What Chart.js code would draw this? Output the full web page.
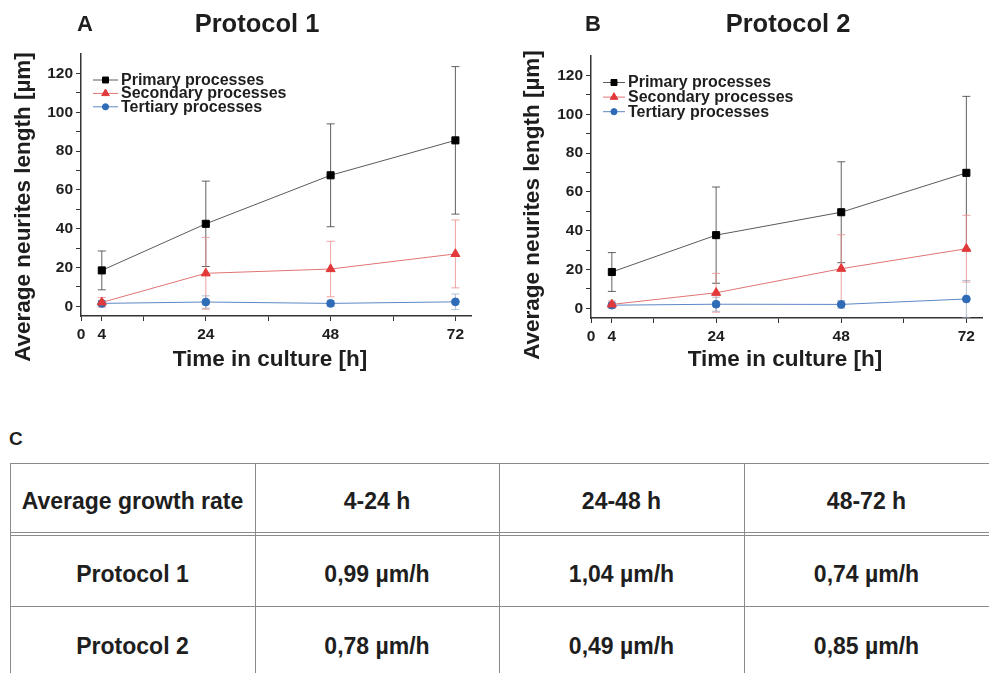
<!DOCTYPE html>
<html><head><meta charset="utf-8">
<script src="https://cdn.jsdelivr.net/npm/chart.js@4/dist/chart.umd.min.js"></script>
<style>
html,body{margin:0;padding:0;background:#fff;width:989px;height:673px;overflow:hidden;font-family:"Liberation Sans",Arial,sans-serif;color:#1e1e1e;}
.wrap{position:absolute;width:480px;height:385px;}
#wrapA{left:0;top:0;}
#wrapB{left:510px;top:2px;}
.ln{position:absolute;background:#8a8a8a;}
.cell{position:absolute;display:flex;align-items:center;justify-content:center;font-weight:bold;font-size:23px;color:#1e1e1e;box-sizing:border-box;padding-top:7px;}
#lblC{position:absolute;left:9px;top:428px;font-weight:bold;font-size:19px;color:#1e1e1e;}
</style>
</head><body>
<div class="wrap" id="wrapA"><canvas id="cA" width="480" height="385"></canvas></div>
<div class="wrap" id="wrapB"><canvas id="cB" width="480" height="385"></canvas></div>
<div id="lblC">C</div>
<div id="table"></div>
<script>
// ---- data ----
const hours = [4, 24, 48, 72];
const seriesNames = ['Primary processes', 'Secondary processes', 'Tertiary processes'];
const p1Primary = [18.5, 42.5, 67.5, 85.5];
const p1PrimarySD = [10, 22, 26.5, 38];
const p1Secondary = [2, 17, 19.2, 27];
const p1SecondarySD = [2.5, 18.5, 14.3, 17.5];
const p1Tertiary = [1.5, 2.2, 1.5, 2.3];
const p1TertiarySD = [1.5, 3.2, 1.5, 4];
const p2Primary = [18.7, 37.7, 49.5, 69.8];
const p2PrimarySD = [10, 24.8, 26, 39.4];
const p2Secondary = [2, 8, 20.4, 30.7];
const p2SecondarySD = [1.8, 10, 17.5, 17.2];
const p2Tertiary = [1.6, 2.1, 2, 4.8];
const p2TertiarySD = [1.5, 3.6, 2.0, 9.5];
const yTicks = [0, 10, 20, 30, 40, 50, 60, 70, 80, 90, 100, 110, 120];
const yLabels = [0, 20, 40, 60, 80, 100, 120];
const xTicks = [0, 4, 12, 24, 36, 48, 60, 72];
const xLabels = [0, 4, 24, 48, 72];
const tableHead = ['Average growth rate', '4-24 h', '24-48 h', '48-72 h'];
const tableRowP1 = ['Protocol 1', '0,99 µm/h', '1,04 µm/h', '0,74 µm/h'];
const tableRowP2 = ['Protocol 2', '0,78 µm/h', '0,49 µm/h', '0,85 µm/h'];

const FONT = '"Liberation Sans", Arial, sans-serif';
const TXT = '#1e1e1e';

function pts(vals){ return hours.map((h,i)=>({x:h, y:vals[i]})); }

const errorBarPlugin = {
  id: 'errorBars',
  beforeDatasetsDraw(chart){
    const ctx = chart.ctx, xs = chart.scales.x, ys = chart.scales.y;
    ctx.save();
    chart.data.datasets.forEach(ds => {
      if (!ds.sd) return;
      ctx.strokeStyle = ds.errColor; ctx.lineWidth = 1;
      ds.data.forEach((p,i) => {
        const x = xs.getPixelForValue(p.x);
        const yt = ys.getPixelForValue(p.y + ds.sd[i]);
        const yb = ys.getPixelForValue(p.y - ds.sd[i]);
        ctx.beginPath();
        ctx.moveTo(x, yt); ctx.lineTo(x, yb);
        ctx.moveTo(x-4, yt); ctx.lineTo(x+4, yt);
        ctx.moveTo(x-4, yb); ctx.lineTo(x+4, yb);
        ctx.stroke();
      });
    });
    ctx.restore();
  }
};

const decoPlugin = {
  id: 'deco',
  afterDraw(chart, args, o){
    const ctx = chart.ctx;
    ctx.save();
    ctx.fillStyle = TXT;
    ctx.textBaseline = 'middle';
    // panel letter & title
    ctx.font = 'bold 22px ' + FONT; ctx.textAlign = 'left';
    ctx.fillText(o.letter, o.letterX, o.titleY);
    ctx.font = 'bold 25.5px ' + FONT; ctx.textAlign = 'center';
    ctx.fillText(o.title, o.titleX, o.titleY);
    // axis titles
    ctx.font = 'bold 22.5px ' + FONT;
    ctx.fillText(o.xTitle, o.xTitleX, o.xTitleY);
    ctx.save();
    ctx.translate(o.yTitleX, o.yTitleY); ctx.rotate(-Math.PI/2);
    ctx.fillText(o.yTitle, 0, 0);
    ctx.restore();
    // legend
    ctx.font = 'bold 16px ' + FONT; ctx.textAlign = 'left';
    chart.data.datasets.forEach((ds,i) => {
      const y = o.legY + i*o.legGap;
      ctx.strokeStyle = ds.borderColor; ctx.lineWidth = 1;
      ctx.beginPath(); ctx.moveTo(o.legX0, y); ctx.lineTo(o.legX1, y); ctx.stroke();
      ctx.fillStyle = ds.pointBackgroundColor; ctx.strokeStyle = ds.pointBorderColor;
      Chart.helpers.drawPoint(ctx, {pointStyle: ds.pointStyle, radius: ds.pointRadius - 0.8, borderWidth: 1, rotation: 0}, (o.legX0+o.legX1)/2, y);
      ctx.fillStyle = TXT;
      ctx.fillText(ds.label, o.legX1 + 3, y + 0.5);
    });
    ctx.restore();
  }
};

function makeChart(id, prim, primSD, sec, secSD, ter, terSD, deco, padRight){
  const mk = (label, vals, sd, line, fill, style, r, err) => ({
    label, data: pts(vals), sd, errColor: err,
    borderColor: line, backgroundColor: fill, borderWidth: 1,
    pointStyle: style, pointRadius: r, pointBackgroundColor: fill, pointBorderColor: fill, pointBorderWidth: 1,
    showLine: true, tension: 0
  });
  return new Chart(document.getElementById(id), {
    type: 'scatter',
    data: { datasets: [
      mk(seriesNames[0], prim, primSD, '#5a5a5a', '#000000', 'rect', 5, 'rgba(70,70,70,0.85)'),
      mk(seriesNames[1], sec, secSD, '#e07474', '#e2393b', 'triangle', 5.2, 'rgba(235,140,140,0.8)'),
      mk(seriesNames[2], ter, terSD, '#5d88c6', '#2f6cb8', 'circle', 3.9, 'rgba(150,165,190,0.7)')
    ]},
    options: {
      responsive: false, animation: false,
      layout: { padding: { left: 10, right: padRight, top: 54, bottom: 0 } },
      plugins: { legend: { display: false }, tooltip: { enabled: false }, deco },
      scales: {
        x: {
          type: 'linear', min: 0, max: 75,
          afterBuildTicks: s => { s.ticks = xTicks.map(v => ({value: v})); },
          afterFit: s => { s.height = 69; },
          grid: { drawOnChartArea: false, drawTicks: true, tickLength: 5, color: '#333', lineWidth: 1 },
          border: { display: true, color: '#333', width: 1.5 },
          ticks: { autoSkip: false, maxRotation: 0, padding: 4, color: TXT,
            font: { family: FONT, size: 15.5, weight: 'bold' },
            callback: v => xLabels.includes(v) ? String(v) : '' }
        },
        y: {
          min: -5, max: 130,
          afterBuildTicks: s => { s.ticks = yTicks.map(v => ({value: v})); },
          afterFit: s => { s.width = 71; },
          grid: { drawOnChartArea: false, drawTicks: true, tickLength: 5, color: '#333', lineWidth: 1 },
          border: { display: true, color: '#333', width: 1.5 },
          ticks: { padding: 3, color: TXT, font: { family: FONT, size: 15.5, weight: 'bold' },
            callback: v => yLabels.includes(v) ? String(v) : '' }
        }
      }
    },
    plugins: [errorBarPlugin, decoPlugin]
  });
}

makeChart('cA', p1Primary, p1PrimarySD, p1Secondary, p1SecondarySD, p1Tertiary, p1TertiarySD, {
  letter: 'A', letterX: 77, title: 'Protocol 1', titleX: 257, titleY: 25,
  xTitle: 'Time in culture [h]', xTitleX: 270, xTitleY: 360,
  yTitle: 'Average neurites length [µm]', yTitleX: 24, yTitleY: 207,
  legX0: 93, legX1: 118, legY: 80, legGap: 13.4
}, 9);
makeChart('cB', p2Primary, p2PrimarySD, p2Secondary, p2SecondarySD, p2Tertiary, p2TertiarySD, {
  letter: 'B', letterX: 75, title: 'Protocol 2', titleX: 278, titleY: 23,
  xTitle: 'Time in culture [h]', xTitleX: 275, xTitleY: 358,
  yTitle: 'Average neurites length [µm]', yTitleX: 23, yTitleY: 203,
  legX0: 93, legX1: 115, legY: 80.5, legGap: 14.6
}, 8);

// ---- table ----
(function(){
  const t = document.getElementById('table');
  const colX = [10, 255, 499, 744, 1000];
  const rowY = [[463, 532], [535, 606], [606, 680]];
  const add = (l,tp,w,h) => { const d=document.createElement('div'); d.className='ln'; d.style.cssText=`left:${l}px;top:${tp}px;width:${w}px;height:${h}px`; t.appendChild(d); };
  add(10, 463, 990, 1); add(10, 532, 990, 1); add(10, 535, 990, 1); add(10, 606, 990, 1);
  for (let i=0;i<4;i++) add(colX[i], 463, 1, 220);
  const rows = [tableHead, tableRowP1, tableRowP2];
  rows.forEach((r, ri) => r.forEach((txt, ci) => {
    const c = document.createElement('div'); c.className='cell';
    c.style.left = colX[ci]+'px'; c.style.width = (ci<3 ? colX[ci+1]-colX[ci] : 245)+'px';
    c.style.top = rowY[ri][0]+'px'; c.style.height = (rowY[ri][1]-rowY[ri][0])+'px';
    c.textContent = txt; t.appendChild(c);
  }));
})();
</script>
</body></html>
